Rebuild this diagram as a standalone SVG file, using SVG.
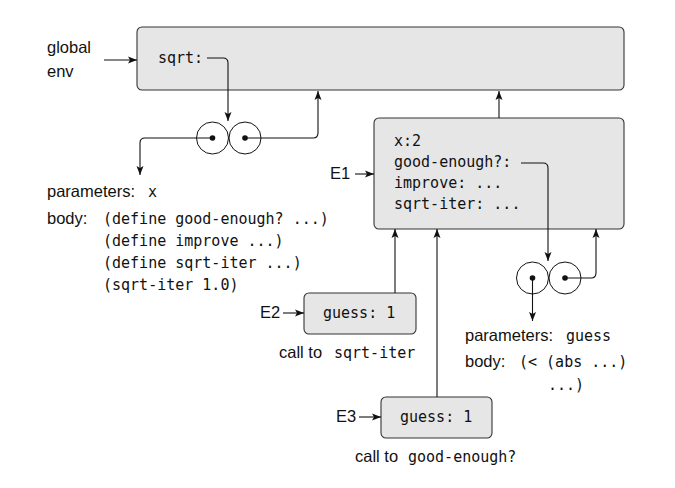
<svg xmlns="http://www.w3.org/2000/svg" width="675" height="488" viewBox="0 0 675 488">
<style>
.box{fill:#e6e6e6;stroke:#333;stroke-width:1.1}
.sans{font-family:"Liberation Sans","DejaVu Sans",sans-serif;font-size:16.5px;fill:#111}
.mono{font-family:"DejaVu Sans Mono","Liberation Mono",monospace;font-size:15px;fill:#111}
.ln{fill:none;stroke:#111;stroke-width:1.1;marker-end:url(#ah)}
.cir{fill:none;stroke:#111;stroke-width:1}
.dot{fill:#111}
</style>
<defs>
<marker id="ah" markerUnits="userSpaceOnUse" markerWidth="10" markerHeight="8" refX="9" refY="4" orient="auto">
<path d="M0,0.5 L9,4 L0,7.5 L2,4 Z" fill="#111"/>
</marker>
</defs>
<rect width="675" height="488" fill="#fff"/>
<g id="global">
<rect class="box" x="137" y="27" width="487" height="63" rx="5"/>
<text class="mono" x="158" y="63">sqrt:</text>
</g>
<g id="global-label">
<text class="sans" x="47" y="53">global</text>
<text class="sans" x="47" y="77">env</text>
</g>
<g id="sqrt-proc">
<circle class="cir" cx="212.5" cy="138" r="16"/>
<circle class="cir" cx="245" cy="138" r="16"/>
<circle class="dot" cx="212.5" cy="138" r="2.8"/>
<circle class="dot" cx="245" cy="138" r="2.8"/>
</g>
<g id="sqrt-text">
<text class="sans" x="47" y="197">parameters:</text>
<text class="mono" x="148" y="197">x</text>
<text class="sans" x="47" y="224">body:</text>
<text class="mono" x="103" y="224">(define good-enough? ...)</text>
<text class="mono" x="103" y="246">(define improve ...)</text>
<text class="mono" x="103" y="268">(define sqrt-iter ...)</text>
<text class="mono" x="103" y="290">(sqrt-iter 1.0)</text>
</g>
<g id="E1">
<rect class="box" x="374" y="118" width="250" height="111" rx="5"/>
<text class="mono" x="394" y="146">x:2</text>
<text class="mono" x="394" y="167">good-enough?:</text>
<text class="mono" x="394" y="188">improve: ...</text>
<text class="mono" x="394" y="209">sqrt-iter: ...</text>
<text class="sans" x="330" y="179">E1</text>
</g>
<g id="ge-proc">
<circle class="cir" cx="532.5" cy="278" r="16"/>
<circle class="cir" cx="565" cy="278" r="16"/>
<circle class="dot" cx="532.5" cy="278" r="2.8"/>
<circle class="dot" cx="565" cy="278" r="2.8"/>
</g>
<g id="ge-text">
<text class="sans" x="465" y="341">parameters:</text>
<text class="mono" x="566" y="341">guess</text>
<text class="sans" x="465" y="367">body:</text>
<text class="mono" x="519" y="367">(&lt; (abs ...)</text>
<text class="mono" x="548" y="390">...)</text>
</g>
<g id="E2">
<rect class="box" x="304" y="293" width="112" height="41" rx="5"/>
<text class="mono" x="323" y="318">guess: 1</text>
<text class="sans" x="260" y="318">E2</text>
<text class="sans" x="279" y="358">call to</text>
<text class="mono" x="334" y="358">sqrt-iter</text>
</g>
<g id="E3">
<rect class="box" x="381" y="397" width="111" height="41" rx="5"/>
<text class="mono" x="400" y="422">guess: 1</text>
<text class="sans" x="336" y="422">E3</text>
<text class="sans" x="355" y="462">call to</text>
<text class="mono" x="408" y="462">good-enough?</text>
</g>
<g id="connectors">
<path class="ln" d="M104,60 H137"/>
<path class="ln" d="M207,58 H223 Q228,58 228,63 V121"/>
<path class="ln" d="M212.5,138 H145 Q140,138 140,143 V175"/>
<path class="ln" d="M245,138 H313 Q318,138 318,133 V91"/>
<path class="ln" d="M499,118 V91"/>
<path class="ln" d="M355,174 H374"/>
<path class="ln" d="M521,163 H543 Q548,163 548,168 V261"/>
<path class="ln" d="M532.5,278 V321"/>
<path class="ln" d="M565,278 H591 Q596,278 596,273 V229"/>
<path class="ln" d="M395,293 V229"/>
<path class="ln" d="M437,397 V229"/>
<path class="ln" d="M283,313 H304"/>
<path class="ln" d="M359,417 H381"/>
</g>
</svg>
